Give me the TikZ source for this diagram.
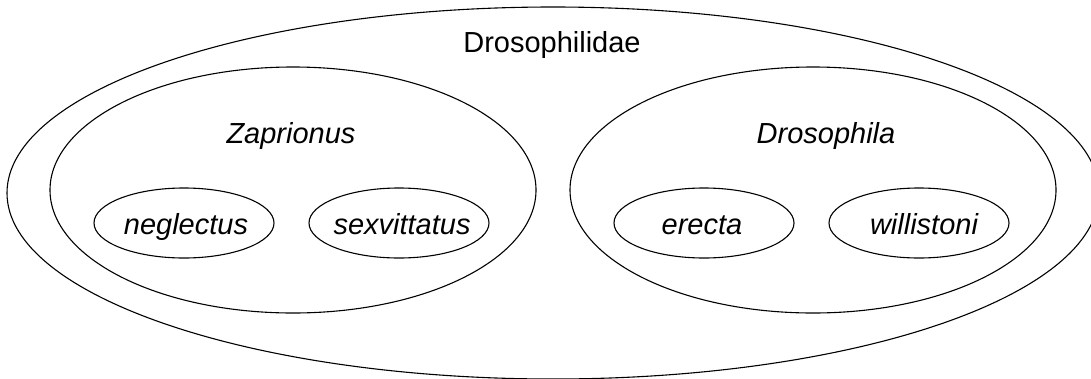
\documentclass[tikz,border=0pt]{standalone}
\usepackage{fontspec}
\setmainfont{Liberation Sans}

\begin{document}
\begin{tikzpicture}[x=1pt,y=-1pt,line width=1.1pt,
    taxon/.style={font=\fontsize{29}{34}\selectfont\itshape,anchor=base},
    family/.style={font=\fontsize{29}{34}\selectfont,anchor=base}]
        \useasboundingbox (0,0) rectangle (1091,378);
        % 定義
        \coordinate (F) at (553,193);
        \coordinate (Z) at (293,190);
        \coordinate (D) at (813,190);
        \coordinate (ZN) at (184,223);
        \coordinate (ZS) at (399,223);
        \coordinate (DE) at (704,223);
        \coordinate (DW) at (919,223);
        % 科
        \draw (F) ellipse[x radius=546pt, y radius=186pt];
        \node[family] (fam) at (552,52) {Drosophilidae};
        % 属
        \draw (Z) ellipse[x radius=243pt, y radius=123pt];
        \node[taxon] (zap) at (291,143) {Zaprionus};
        \draw (D) ellipse[x radius=243pt, y radius=123pt];
        \node[taxon] (dro) at (826,143) {Drosophila};
        % 種
        \draw (ZN) ellipse[x radius=90pt, y radius=35pt];
        \node[taxon] (neg) at (186,234) {neglectus};
        \draw (ZS) ellipse[x radius=90pt, y radius=35pt];
        \node[taxon] (sex) at (402,234) {sexvittatus};
        \draw (DE) ellipse[x radius=90pt, y radius=35pt];
        \node[taxon] (ere) at (702,234) {erecta};
        \draw (DW) ellipse[x radius=90pt, y radius=35pt];
        \node[taxon] (wil) at (924,234) {willistoni};
    \end{tikzpicture}
\end{document}
